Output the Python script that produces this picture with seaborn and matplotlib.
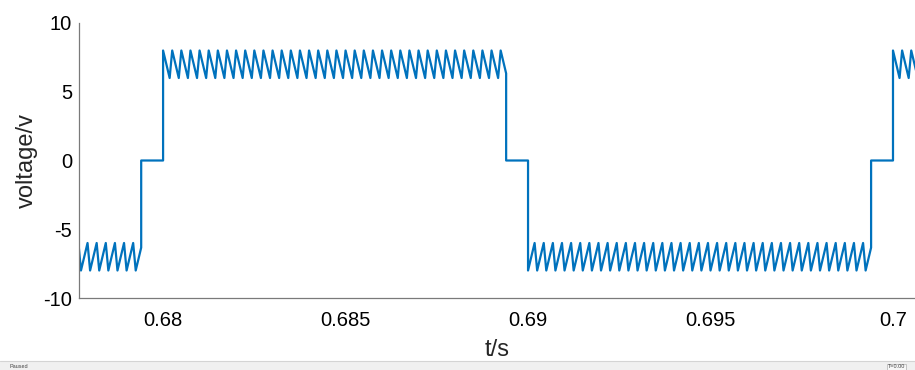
import numpy as np
import pandas as pd
import matplotlib
matplotlib.use("Agg")
import matplotlib.pyplot as plt
from matplotlib.patches import Rectangle
import seaborn as sns

# segments of the waveform
seg_start = [0.6700, 0.6794, 0.6800, 0.6894, 0.6900, 0.6994, 0.7000]
seg_end = [0.6794, 0.6800, 0.6894, 0.6900, 0.6994, 0.7000, 0.7094]
seg_from = [-8, 0, 8, 0, -8, 0, 8]     # level at start of each tooth
seg_to = [-6, 0, 6, 0, -6, 0, 6]       # level at end of the ramp
carrier = 0.00025                      # tooth period, s
ramp = 0.72                            # share of a tooth spent on the ramp

xticks = [0.68, 0.685, 0.69, 0.695, 0.70]
xtick_labels = ["0.68", "0.685", "0.69", "0.695", "0.7"]
yticks = [-10, -5, 0, 5, 10]

# build the vertices tooth by tooth
t, v = [], []
for a, b, lo, hi in zip(seg_start, seg_end, seg_from, seg_to):
    if lo == hi:
        t += [a, b]
        v += [lo, hi]
        continue
    k = 0
    while True:
        t0 = a + k * carrier
        if t0 >= b:
            break
        t1 = min(t0 + ramp * carrier, b)
        t.append(t0); v.append(lo)
        frac = (t1 - t0) / (ramp * carrier)
        t.append(t1); v.append(lo + (hi - lo) * frac)
        if t1 >= b:
            break
        k += 1
df = pd.DataFrame({"t": t, "v": v})

sns.set_style("white")
plt.rcParams["font.family"] = ["Liberation Sans", "DejaVu Sans"]
plt.rcParams["axes.unicode_minus"] = False

fig = plt.figure(figsize=(9.15, 3.7), dpi=100)
ax = fig.add_axes([79 / 915, 1 - 298 / 370, 1 - 79 / 915, (298 - 23) / 370])

sns.lineplot(data=df, x="t", y="v", sort=False, estimator=None,
             color="#0072BD", linewidth=1.6, ax=ax)

ax.set_xlim(0.677696, 0.700603)
ax.set_ylim(-10, 10)
ax.set_xticks(xticks)
ax.set_xticklabels(xtick_labels)
ax.set_yticks(yticks)
ax.tick_params(direction="in", length=7, width=0.8, color="#8a8a8a",
               labelsize=14.5, labelcolor="black")
ax.tick_params(axis="x", pad=9)
ax.tick_params(axis="y", pad=5)
for s in ["top", "right"]:
    ax.spines[s].set_visible(False)
for s in ["left", "bottom"]:
    ax.spines[s].set_color("#7a7a7a")
    ax.spines[s].set_linewidth(0.9)

ax.set_xlabel("t/s", fontsize=17, labelpad=7)
ax.set_ylabel("voltage/v", fontsize=17, labelpad=4)

# status bar strip at the bottom
fig.patches.append(Rectangle((0, 0), 1, 9 / 370, transform=fig.transFigure,
                             facecolor="#f0f0f0", edgecolor="none", zorder=0))
fig.add_artist(plt.Line2D([0, 1], [9 / 370, 9 / 370], transform=fig.transFigure,
                          color="#d4d4d4", linewidth=0.8))
fig.text(10 / 915, 1.5 / 370, "Paused", fontsize=4, color="#444444")
fig.text(888 / 915, 1.5 / 370, "T=0.00", fontsize=4, color="#444444",
         bbox=dict(facecolor="#f7f7f7", edgecolor="#b0b0b0", linewidth=0.5, pad=0.6))

fig.savefig("out.png", dpi=100)
